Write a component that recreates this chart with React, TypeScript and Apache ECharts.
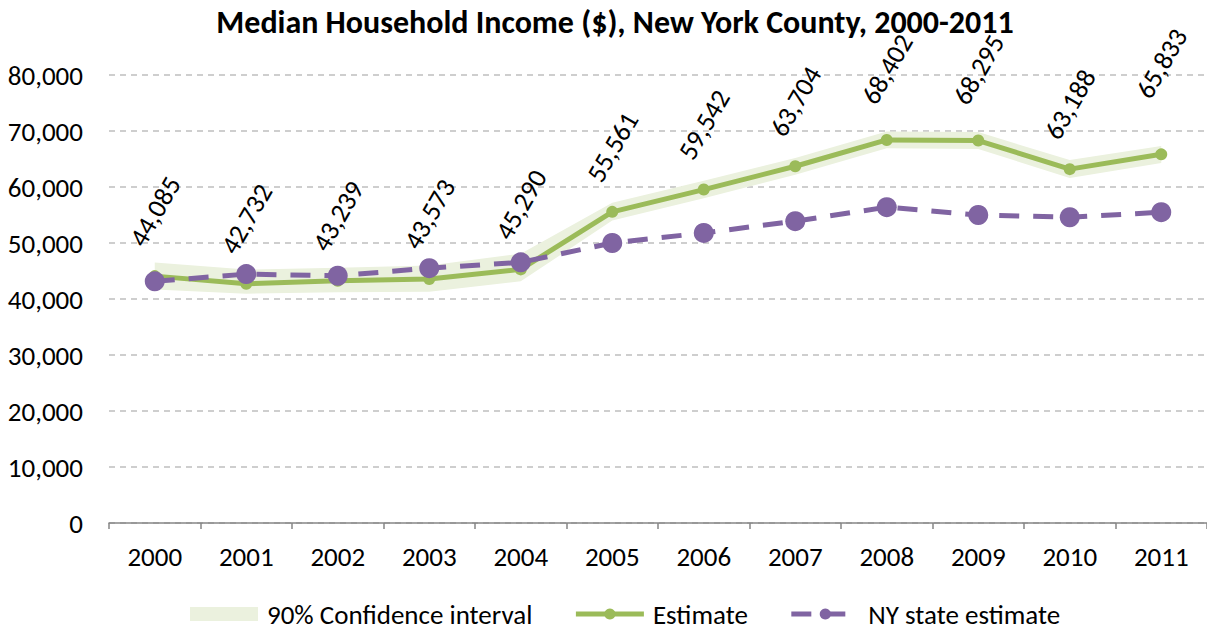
import React, { useEffect, useRef } from "react";
import * as echarts from "echarts";

const years = ["2000", "2001", "2002", "2003", "2004", "2005", "2006", "2007", "2008", "2009", "2010", "2011"];
const estimate = [44085, 42732, 43239, 43573, 45290, 55561, 59542, 63704, 68402, 68295, 63188, 65833];
const nyState = [43150, 44450, 44150, 45500, 46550, 50000, 51800, 53900, 56400, 55000, 54600, 55500];
const ciLower = [41700, 40950, 41200, 41300, 43150, 54000, 58000, 62200, 66900, 66800, 61600, 64300];
const ciUpper = [46500, 45250, 45600, 46000, 48100, 57200, 61100, 65200, 69900, 69800, 64800, 67300];
const yTicks = { min: 0, max: 80000, interval: 10000 };
// extra lift (px) of the rotated value labels, as placed in the original
const labelLift = [0, 0, 0, 0, 0, 0, 0, 0, 6, 6, 0, 26];

const FONT = "Carlito, Calibri, Lato, sans-serif";

export default function App() {
  const ref = useRef<HTMLDivElement>(null);
  useEffect(() => {
    if (!ref.current) return;
    const chart = echarts.init(ref.current, null, { renderer: "svg" });
    const ciSpan = ciUpper.map((u, i) => u - ciLower[i]);
    const fmt = (v: number) => v.toLocaleString("en-US");
    chart.setOption({
      animation: false,
      textStyle: { fontFamily: FONT },
      graphic: [
        {
          type: "text",
          x: 615,
          y: 22,
          style: {
            text: "Median Household Income ($), New York County, 2000-2011",
            font: `bold 32px ${FONT}`,
            fill: "#000",
            textAlign: "center",
            textVerticalAlign: "middle",
          },
        },
      ],
      grid: { left: 109, top: 75, width: 1100, height: 448, containLabel: false },
      legend: {
        left: 185,
        top: 595,
        itemWidth: 68,
        itemHeight: 14,
        itemGap: 41,
        lineStyle: { width: 5 },
        textStyle: { fontFamily: FONT, fontSize: 27, lineHeight: 28, color: "#000", padding: [0, 0, 0, 4] },
        data: [
          { name: "90% Confidence interval", icon: "rect" },
          { name: "Estimate" },
          { name: "NY state estimate" },
        ],
      },
      xAxis: {
        type: "category",
        data: years,
        boundaryGap: true,
        axisLine: { show: true, lineStyle: { color: "#868686", width: 1.5 } },
        axisTick: { show: true, length: 6, lineStyle: { color: "#868686", width: 1.5 } },
        axisLabel: { fontFamily: FONT, fontSize: 27, color: "#000", margin: 20 },
      },
      yAxis: {
        type: "value",
        min: yTicks.min,
        max: yTicks.max,
        interval: yTicks.interval,
        axisLine: { show: false },
        axisTick: { show: false },
        axisLabel: { fontFamily: FONT, fontSize: 27, color: "#000", margin: 26, formatter: (v: number) => fmt(v) },
        splitLine: { show: true, lineStyle: { color: "#BFBFBF", width: 1.5, type: [6, 5] } },
      },
      series: [
        {
          name: "ciLower",
          type: "line",
          stack: "ci",
          data: ciLower,
          symbol: "none",
          lineStyle: { width: 0, opacity: 0 },
          silent: true,
          z: 1,
        },
        {
          name: "90% Confidence interval",
          type: "line",
          stack: "ci",
          data: ciSpan,
          symbol: "none",
          lineStyle: { width: 0, opacity: 0 },
          areaStyle: { color: "#EBF1DE", opacity: 1 },
          itemStyle: { color: "#EBF1DE" },
          silent: true,
          z: 1,
        },
        {
          name: "Estimate",
          type: "line",
          data: estimate.map((v, i) => ({ value: v, label: { distance: 59 + labelLift[i] } })),
          symbol: "circle",
          symbolSize: 12,
          lineStyle: { color: "#9BBB59", width: 5 },
          itemStyle: { color: "#9BBB59" },
          z: 3,
          label: {
            show: true,
            position: "top",
            distance: 59,
            rotate: 60,
            align: "center",
            verticalAlign: "middle",
            fontFamily: FONT,
            fontSize: 27,
            color: "#000",
            formatter: (p: any) => fmt(p.value),
          },
        },
        {
          name: "NY state estimate",
          type: "line",
          data: nyState,
          symbol: "circle",
          symbolSize: 20,
          lineStyle: { color: "#8064A2", width: 5, type: [20, 14] },
          itemStyle: { color: "#8064A2" },
          z: 4,
        },
      ],
    });
    return () => chart.dispose();
  }, []);
  return (
    <div
      ref={ref}
      style={{ position: "fixed", left: 0, top: 0, width: 1207, height: 629, background: "#fff" }}
    />
  );
}
